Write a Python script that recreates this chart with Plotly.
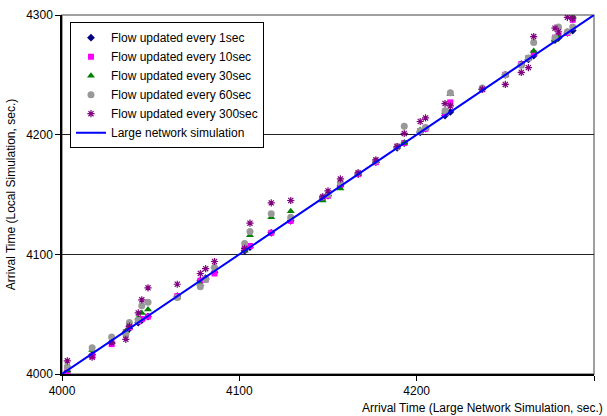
import plotly.graph_objects as go

# Arrival time in the large network simulation (sec.)
arrival_large = [4003, 4017, 4028, 4036, 4038, 4043, 4045, 4048.5, 4065, 4078, 4081, 4086,
                 4103, 4106, 4118, 4129, 4147, 4150, 4157, 4167, 4177, 4189, 4193, 4202,
                 4205, 4216, 4219, 4237, 4250, 4259, 4263, 4266, 4278, 4280, 4285, 4288]

# Arrival time in the local simulation (sec.) per flow-update interval
local_1s = [4002, 4016, 4026, 4035, 4038, 4043, 4045, 4048, 4065, 4078, 4080, 4085,
            4103, 4106, 4118, 4128, 4147, 4149, 4157, 4167, 4177, 4189, 4193, 4202,
            4205, 4216, 4219, 4238, 4250, 4259, 4263, 4266, 4279, 4281, 4285, 4287]
local_10s = [4002, 4015, 4025, 4035, 4039, 4044, 4046, 4048, 4065, 4078, 4079, 4084,
             4104, 4107, 4118, 4128, 4147, 4149, 4158, 4167, 4177, 4190, 4193, 4203,
             4205, 4218, 4227, 4238, 4250, 4259, 4264, 4268, 4281, 4283, 4285, 4296]
local_30s = [4003, 4020, 4027, 4036, 4041, 4047, 4051, 4054, 4064, 4075, 4080, 4090,
             4103, 4116, 4131, 4136, 4145, 4150, 4155, 4167, 4178, 4190, 4193, 4204,
             4206, 4219, 4234, 4239, 4250, 4259, 4264, 4270, 4279, 4282, 4286, 4299]
local_60s = [4006, 4022, 4031, 4033, 4043, 4045, 4057, 4060, 4064, 4073, 4079, 4089,
             4109, 4119, 4134, 4131, 4148, 4150, 4160, 4168, 4178, 4190, 4207, 4203,
             4206, 4220, 4235, 4239, 4250, 4258, 4264, 4277, 4281, 4290, 4286, 4290]
local_300s = [4011, 4014, 4026, 4029, 4040, 4051, 4062, 4072, 4075, 4084, 4088, 4094,
              4105, 4126, 4143, 4145, 4148, 4153, 4163, 4168, 4179, 4190, 4201, 4211,
              4214, 4226, 4224, 4238, 4242, 4252, 4256, 4282, 4289, 4286, 4298, 4297]

# Reference line (large network simulation)
line_x = [4000, 4300]
line_y = [4000, 4300]

x_ticks = [4000, 4100, 4200, 4300]
y_ticks = [4000, 4100, 4200, 4300]

FONT = "Liberation Sans, Arial, sans-serif"

fig = go.Figure()
fig.add_trace(go.Scatter(x=arrival_large, y=local_1s, mode="markers",
                         name="Flow updated every 1sec",
                         marker=dict(symbol="diamond", size=6, color="#000080")))
fig.add_trace(go.Scatter(x=arrival_large, y=local_10s, mode="markers",
                         name="Flow updated every 10sec",
                         marker=dict(symbol="square", size=6, color="#FF00FF")))
fig.add_trace(go.Scatter(x=arrival_large, y=local_30s, mode="markers",
                         name="Flow updated every 30sec",
                         marker=dict(symbol="triangle-up", size=7, color="#008000")))
fig.add_trace(go.Scatter(x=arrival_large, y=local_60s, mode="markers",
                         name="Flow updated every 60sec",
                         marker=dict(symbol="circle", size=7, color="#999999")))
fig.add_trace(go.Scatter(x=arrival_large, y=local_300s, mode="markers",
                         name="Flow updated every 300sec",
                         marker=dict(symbol="asterisk-open", size=6, color="#800080",
                                     line=dict(color="#800080", width=1.2))))
fig.add_trace(go.Scatter(x=line_x, y=line_y, mode="lines",
                         name="Large network simulation",
                         line=dict(color="#0000FF", width=2)))

fig.update_layout(
    width=607, height=416,
    margin=dict(l=62, r=13, t=15, b=42, autoexpand=False),
    paper_bgcolor="white", plot_bgcolor="white",
    font=dict(family=FONT, size=12, color="#000000"),
    showlegend=True,
    legend=dict(x=0.015, y=0.98, xanchor="left", yanchor="top",
                bgcolor="white", bordercolor="#000000", borderwidth=1,
                font=dict(size=12), tracegroupgap=0),
    shapes=[dict(type="rect", xref="paper", yref="paper", x0=0, x1=1, y0=0, y1=1,
                 line=dict(color="#808080", width=1.5), layer="below")],
    annotations=[dict(text="Arrival Time (Large Network Simulation, sec.)",
                      xref="paper", yref="paper", x=1, y=0, xanchor="right",
                      yanchor="middle", xshift=11, yshift=-34, showarrow=False,
                      font=dict(size=12))],
)
fig.update_xaxes(range=[4000, 4300], tickvals=x_ticks, showgrid=False,
                 showline=True, linecolor="#000000", linewidth=1.5,
                 ticks="outside", ticklen=5, tickcolor="#000000",
                 tickfont=dict(size=12), zeroline=False, automargin=False)
fig.update_yaxes(range=[4000, 4300], tickvals=y_ticks, showgrid=True,
                 gridcolor="#222222", gridwidth=1,
                 showline=True, linecolor="#000000", linewidth=1.5,
                 ticks="outside", ticklen=5, tickcolor="#000000",
                 tickfont=dict(size=12), zeroline=False, automargin=False,
                 title=dict(text="Arrival Time (Local Simulation, sec.)",
                            font=dict(size=12), standoff=8))

fig.write_html("out.html", config={"displayModeBar": False},
               post_script="document.body.style.margin='0';document.body.style.overflow='hidden';")
